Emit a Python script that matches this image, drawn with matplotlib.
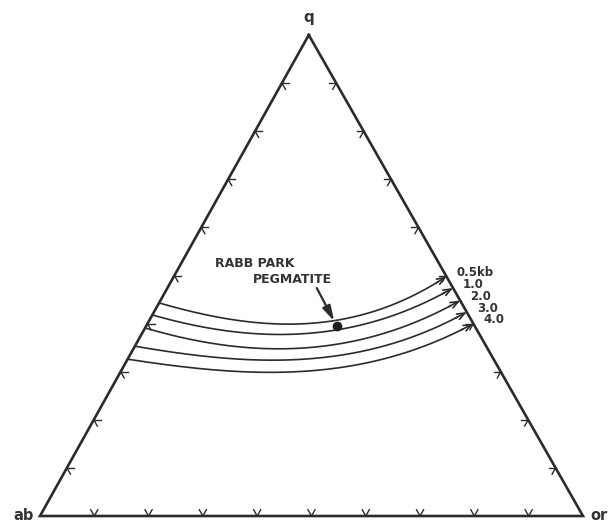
import numpy as np
import matplotlib
matplotlib.use("Agg")
import matplotlib.pyplot as plt

# ---- data (ternary compositions, wt% q and or; ab = 100 - q - or) ----
vertex_labels = ["q", "ab", "or"]
pressure_labels = ["0.5kb", "1.0", "2.0", "3.0", "4.0"]

curve_q_05 = [44.3, 41.8, 40.6, 40.2, 40.8, 42.2, 44.3, 46.6, 49.8]
curve_or_05 = [0.0, 8.8, 16.7, 28.0, 34.5, 39.9, 44.4, 46.9, 50.2]

curve_q_10 = [41.8, 39.3, 38.1, 37.9, 38.9, 40.3, 41.8, 47.4]
curve_or_10 = [0.0, 10.0, 18.0, 29.1, 35.4, 40.8, 45.6, 52.6]

curve_q_20 = [39.1, 36.4, 35.1, 34.9, 36.6, 39.1, 44.8]
curve_or_20 = [0.0, 11.4, 19.4, 30.6, 40.8, 46.9, 55.2]

curve_q_30 = [35.3, 33.5, 32.4, 32.6, 34.1, 36.4, 42.4]
curve_or_30 = [0.0, 12.9, 20.8, 31.7, 42.0, 48.3, 57.6]

curve_q_40 = [32.6, 30.8, 29.8, 30.2, 31.4, 33.7, 40.0]
curve_or_40 = [0.0, 14.2, 22.0, 33.0, 43.4, 49.6, 60.0]

curves_q = [curve_q_05, curve_q_10, curve_q_20, curve_q_30, curve_q_40]
curves_or = [curve_or_05, curve_or_10, curve_or_20, curve_or_30, curve_or_40]

pegmatite_label_1 = "RABB PARK"
pegmatite_label_2 = "PEGMATITE"
pegmatite_q = 39.5
pegmatite_or = 35.1

tick_fracs = [10, 20, 30, 40, 50, 60, 70, 80, 90]

# ---- geometry helpers ----
APEX_OFF = 0.495


def to_xy(q, o):
    q = np.asarray(q, float) / 100.0
    o = np.asarray(o, float) / 100.0
    return o + APEX_OFF * q, q


def smooth(x, y, n=200, deg=3):
    """Smooth rendering of a hand-read curve (least squares, ends pinned)."""
    x = np.asarray(x, float)
    y = np.asarray(y, float)
    w = np.ones_like(x)
    w[0] = w[-1] = 20.0
    c = np.polyfit(x, y, deg, w=w)
    sx = np.linspace(x[0], x[-1], n)
    return sx, np.polyval(c, sx)


fig = plt.figure(figsize=(6.14, 5.23), dpi=100)
ax = fig.add_axes([0, 0, 1, 1])
ax.set_xlim(-40 / 543, 574 / 543)
ax.set_ylim(-7 / 481, 516 / 481)
ax.axis("off")

LC = "#2b2b2b"
TC = "#333333"
FONT = "DejaVu Sans"

# triangle
tx, ty = to_xy([100, 0, 0, 100], [0, 0, 100, 0])
ax.plot(tx, ty, color=LC, lw=1.9, solid_joinstyle="miter")

# ticks (chevrons with vertex on edge, arms parallel to the other edges)
d = 1.3
for f in tick_fracs:
    q0, o0 = 0, f
    for (dq, do) in ((d, 0), (d, -d)):
        xx, yy = to_xy([q0, q0 + dq], [o0, o0 + do])
        ax.plot(xx, yy, color=LC, lw=1.0)
    q0, o0 = f, 0
    for (dq, do) in ((0, d), (-d, d)):
        xx, yy = to_xy([q0, q0 + dq], [o0, o0 + do])
        ax.plot(xx, yy, color=LC, lw=1.0)
    q0, o0 = f, 100 - f
    for (dq, do) in ((0, -d), (-d, 0)):
        xx, yy = to_xy([q0, q0 + dq], [o0, o0 + do])
        ax.plot(xx, yy, color=LC, lw=1.0)

# curves
for cq, co, lab in zip(curves_q, curves_or, pressure_labels):
    x, y = to_xy(cq, co)
    sx, sy = smooth(x, y)
    ax.plot(sx[:-6], sy[:-6], color=LC, lw=1.2)
    ax.annotate("", xy=(sx[-1], sy[-1]), xytext=(sx[-8], sy[-8]),
                arrowprops=dict(arrowstyle="->,head_length=0.55,head_width=0.22",
                                color=LC, lw=1.2, shrinkA=0, shrinkB=0,
                                mutation_scale=10))
    ax.annotate(lab, xy=(sx[-1], sy[-1]), xytext=(10, 4),
                textcoords="offset pixels", ha="left", va="center",
                fontsize=8.5, fontweight="bold", family=FONT, color=TC)

# pegmatite point
px_, py_ = to_xy(pegmatite_q, pegmatite_or)
ax.plot([px_], [py_], "o", color="#1e1e1e", ms=6)
ax.annotate("", xy=(px_, py_), xytext=(-20, 38), textcoords="offset pixels",
            arrowprops=dict(arrowstyle="-|>,head_length=0.9,head_width=0.25",
                            color=LC, lw=1.6, shrinkA=0, shrinkB=4,
                            mutation_scale=10))
ax.annotate(pegmatite_label_1, xy=(px_, py_), xytext=(-122, 63),
            textcoords="offset pixels", ha="left", va="center",
            fontsize=9, fontweight="bold", family=FONT, color=TC)
ax.annotate(pegmatite_label_2, xy=(px_, py_), xytext=(-84, 47),
            textcoords="offset pixels", ha="left", va="center",
            fontsize=9, fontweight="bold", family=FONT, color=TC)

# vertex labels
qx, qy = to_xy(100, 0)
ax.annotate(vertex_labels[0], xy=(qx, qy), xytext=(0, 18), textcoords="offset pixels",
            ha="center", va="center", fontsize=11, fontweight="bold",
            family=FONT, color=TC)
ax.annotate(vertex_labels[1], xy=(0, 0), xytext=(-6, 1), textcoords="offset pixels",
            ha="right", va="center", fontsize=10.5, fontweight="bold",
            family=FONT, color=TC)
ox_, oy_ = to_xy(0, 100)
ax.annotate(vertex_labels[2], xy=(ox_, oy_), xytext=(7, 0), textcoords="offset pixels",
            ha="left", va="center", fontsize=10.5, fontweight="bold",
            family=FONT, color=TC)

fig.savefig("out.png", dpi=100, facecolor="white")
